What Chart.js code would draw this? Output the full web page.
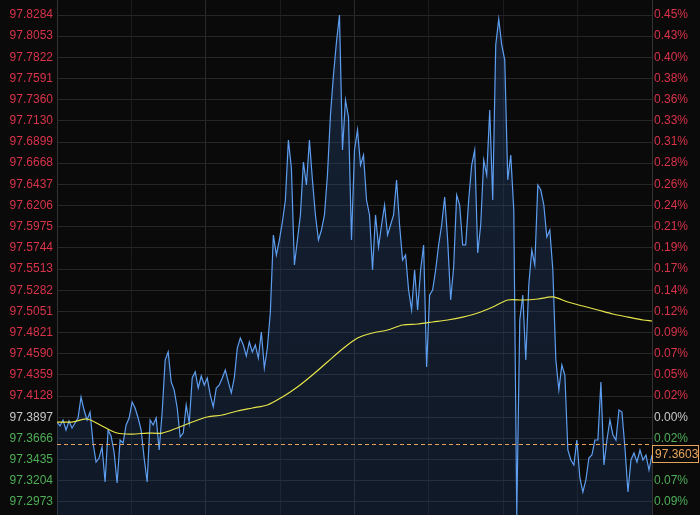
<!DOCTYPE html>
<html>
<head>
<meta charset="utf-8">
<script src="https://cdn.jsdelivr.net/npm/chart.js@4.4.1/dist/chart.umd.min.js"></script>
<style>
  html, body { margin: 0; padding: 0; background: #0a0a0a; }
  #wrap { width: 700px; height: 515px; }
</style>
</head>
<body>
<div id="wrap"><canvas id="myChart" width="700" height="515"></canvas></div>
<script>
// price ticks on the left, percent ticks on the right
var leftTicks = [97.8284, 97.8053, 97.7822, 97.7591, 97.7360, 97.7130, 97.6899, 97.6668,
  97.6437, 97.6206, 97.5975, 97.5744, 97.5513, 97.5282, 97.5051, 97.4821, 97.4590,
  97.4359, 97.4128, 97.3897, 97.3666, 97.3435, 97.3204, 97.2973]
var rightTicks = ['0.45%', '0.43%', '0.40%', '0.38%', '0.36%', '0.33%', '0.31%', '0.28%',
  '0.26%', '0.24%', '0.21%', '0.19%', '0.17%', '0.14%', '0.12%', '0.09%', '0.07%',
  '0.05%', '0.02%', '0.00%', '0.02%', '0.05%', '0.07%', '0.09%']
var baseIndex = 19   // 97.3897 = 0.00%
var lastPrice = 97.3603

// intraday price, one sample per step
var price = [
  97.3845, 97.3802, 97.3867, 97.3758, 97.3856, 97.3780, 97.3834, 97.3889, 97.4118, 97.3976,
  97.3867, 97.3954, 97.3616, 97.3409, 97.3453, 97.3573, 97.3191, 97.3758, 97.3693, 97.3518,
  97.3180, 97.3649, 97.3616, 97.3813, 97.3889, 97.4063, 97.3998, 97.3889, 97.3758, 97.3453,
  97.3191, 97.3867, 97.3813, 97.3889, 97.3540, 97.3954, 97.4521, 97.4609, 97.4282, 97.4194,
  97.3998, 97.3682, 97.3725, 97.4031, 97.3834, 97.4325, 97.4391, 97.4216, 97.4347, 97.4249,
  97.4325, 97.4140, 97.4009, 97.4216, 97.4249, 97.4325, 97.4412, 97.4282, 97.4162, 97.4325,
  97.4652, 97.4761, 97.4685, 97.4565, 97.4718, 97.4609, 97.4685, 97.4543, 97.4827, 97.4434,
  97.4652, 97.5045, 97.5885, 97.5667, 97.5830, 97.6027, 97.6266, 97.6921, 97.6615, 97.5558,
  97.5830, 97.6103, 97.6681, 97.6430, 97.6921, 97.6485, 97.6103, 97.5830, 97.5939, 97.6103,
  97.6539, 97.7193, 97.7630, 97.7990, 97.8284, 97.6812, 97.7357, 97.7172, 97.5830, 97.6812,
  97.7030, 97.6648, 97.6757, 97.6266, 97.6103, 97.5503, 97.6103, 97.5754, 97.5994, 97.6212,
  97.5885, 97.5994, 97.6103, 97.6485, 97.5994, 97.5612, 97.5667, 97.5285, 97.5067, 97.5503,
  97.5067, 97.5503, 97.5776, 97.4445, 97.5230, 97.5285, 97.5503, 97.5776, 97.5994, 97.6299,
  97.5830, 97.5176, 97.5536, 97.6321, 97.6212, 97.5776, 97.5776, 97.6266, 97.6648, 97.6812,
  97.5688, 97.5994, 97.6703, 97.6539, 97.7248, 97.6266, 97.7957, 97.8240, 97.7957, 97.7793,
  97.6485, 97.6757, 97.6157, 97.2831, 97.4958, 97.5230, 97.4521, 97.5339, 97.5721, 97.5558,
  97.6430, 97.6375, 97.6212, 97.5863, 97.5939, 97.5503, 97.4521, 97.4194, 97.4467, 97.4358,
  97.3540, 97.3431, 97.3376, 97.3649, 97.3235, 97.3082, 97.3213, 97.3453, 97.3485, 97.3649,
  97.3649, 97.4282, 97.3376, 97.3649, 97.3867, 97.3704, 97.3649, 97.3976, 97.3954, 97.3562,
  97.3082, 97.3431, 97.3507, 97.3409, 97.3540, 97.3431, 97.3485, 97.3322, 97.3485
]

// average line, read every 5 samples
var avgLine = [
  97.3845, 97.3845, 97.3878, 97.3802, 97.3725, 97.3714, 97.3725, 97.3725, 97.3780, 97.3845,
  97.3900, 97.3922, 97.3965, 97.3998, 97.4031, 97.4118, 97.4227, 97.4358, 97.4500, 97.4641,
  97.4761, 97.4816, 97.4849, 97.4903, 97.4914, 97.4936, 97.4958, 97.4990, 97.5034, 97.5099,
  97.5176, 97.5176, 97.5187, 97.5209, 97.5154, 97.5110, 97.5067, 97.5023, 97.4990, 97.4958,
  97.4947
]

var upColor = '#d9334a'
var downColor = '#4fae58'
var flatColor = '#c8c8c8'

function tickColor(i) {
  if (i < baseIndex) return upColor
  if (i > baseIndex) return downColor
  return flatColor
}

var lastIdx = price.length - 1
var priceData = price.map(function(v, i){ return {x: i, y: v} })
var avgData = avgLine.map(function(v, k){ return {x: Math.min(k * 5, lastIdx), y: v} })

var lastLine = {
  id: 'lastLine',
  afterDatasetsDraw: function(chart){
    var ctx = chart.ctx
    var area = chart.chartArea
    var y = Math.round(chart.scales.y.getPixelForValue(lastPrice)) + 0.5
    ctx.save()
    ctx.strokeStyle = '#e5a35a'
    ctx.lineWidth = 1
    ctx.setLineDash([4, 3])
    ctx.beginPath()
    ctx.moveTo(area.left, y)
    ctx.lineTo(area.right, y)
    ctx.stroke()
    ctx.setLineDash([])
    ctx.fillStyle = '#0a0a0a'
    ctx.fillRect(area.right + 0.5, y + 1, 46, 17)
    ctx.strokeRect(area.right + 0.5, y + 1, 46, 17)
    ctx.fillStyle = '#e8a45c'
    ctx.font = '12px "Liberation Sans", Arial, sans-serif'
    ctx.textBaseline = 'middle'
    ctx.fillText(lastPrice.toFixed(4), area.right + 3, y + 10)
    ctx.restore()
  }
}

var canvas = document.getElementById('myChart')
var chart = new Chart(canvas, {
  type: 'line',
  data: {
    datasets: [
      {
        label: 'avg',
        data: avgData,
        borderColor: '#e6e44a',
        borderWidth: 1.2,
        pointRadius: 0,
        tension: 0.3,
        fill: false,
        order: 0
      },
      {
        label: 'price',
        data: priceData,
        borderColor: '#5e9ef0',
        borderWidth: 1.2,
        pointRadius: 0,
        tension: 0,
        fill: 'start',
        backgroundColor: function(c){
          var a = c.chart.chartArea
          if (!a) return 'rgba(40,80,140,0.25)'
          var g = c.chart.ctx.createLinearGradient(0, a.top, 0, a.bottom)
          g.addColorStop(0, 'rgba(45,85,145,0.30)')
          g.addColorStop(1, 'rgba(35,70,125,0.25)')
          return g
        },
        order: 1
      }
    ]
  },
  options: {
    responsive: false,
    animation: false,
    layout: { padding: 0 },
    plugins: { legend: { display: false }, tooltip: { enabled: false } },
    scales: {
      x: {
        type: 'linear',
        min: 0,
        max: lastIdx,
        afterBuildTicks: function(s){
          var t = []
          for (var i = 0; i <= 8; i++) t.push({value: lastIdx * i / 8})
          s.ticks = t
        },
        afterFit: function(s){ s.height = 0; s.paddingLeft = 0; s.paddingRight = 0 },
        ticks: { display: false },
        border: { display: false },
        grid: {
          drawTicks: false,
          color: function(c){
            if (c.index === 0 || c.index === 8) return 'rgba(0,0,0,0)'
            if (c.index === 2 || c.index === 4) return '#2a2a2a'
            return '#1b1b1b'
          }
        }
      },
      y: {
        position: 'left',
        min: 97.28312,
        max: 97.84476,
        afterBuildTicks: function(s){
          s.ticks = leftTicks.map(function(v){ return {value: v} })
        },
        afterFit: function(s){ s.width = 57; s.paddingTop = 0; s.paddingBottom = 0 },
        ticks: {
          padding: 4,
          font: { family: '"Liberation Sans", Arial, sans-serif', size: 12 },
          color: function(c){ return tickColor(c.index) },
          callback: function(v, i){ return leftTicks[i].toFixed(4) }
        },
        border: { display: true, color: '#333333' },
        grid: { drawTicks: false, color: '#262626' }
      },
      y2: {
        position: 'right',
        min: 97.28312,
        max: 97.84476,
        afterBuildTicks: function(s){
          s.ticks = leftTicks.map(function(v){ return {value: v} })
        },
        afterFit: function(s){ s.width = 48; s.paddingTop = 0; s.paddingBottom = 0 },
        ticks: {
          padding: 2,
          font: { family: '"Liberation Sans", Arial, sans-serif', size: 12 },
          color: function(c){ return tickColor(c.index) },
          callback: function(v, i){ return rightTicks[i] }
        },
        border: { display: true, color: '#333333' },
        grid: { display: false, drawTicks: false }
      }
    }
  },
  plugins: [lastLine]
})
</script>
</body>
</html>
